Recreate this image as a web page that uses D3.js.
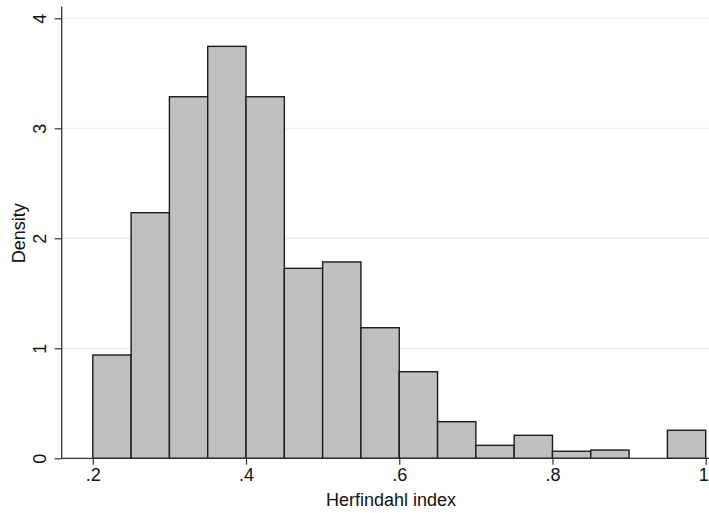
<!DOCTYPE html>
<html>
<head>
<meta charset="utf-8">
<script src="https://cdn.jsdelivr.net/npm/d3@7/dist/d3.min.js"></script>
<style>
  html, body { margin: 0; padding: 0; background: #fff; }
  svg { display: block; }
  text { font-family: "Liberation Sans", Arial, Helvetica, sans-serif; fill: #111; }
</style>
</head>
<body>
<svg id="chart" width="709" height="513"></svg>
<script>
// Histogram bins (lower edges, width .05) and their densities
const binStarts = [0.20, 0.25, 0.30, 0.35, 0.40, 0.45, 0.50, 0.55, 0.60, 0.65, 0.70, 0.75, 0.80, 0.85, 0.90, 0.95];
const densities = [0.939, 2.233, 3.287, 3.745, 3.287, 1.727, 1.785, 1.187, 0.787, 0.333, 0.118, 0.209, 0.064, 0.075, 0, 0.255];
const binWidth = 0.05;

const xTicks = [0.2, 0.4, 0.6, 0.8, 1];
const xTickLabels = [".2", ".4", ".6", ".8", "1"];
const yTicks = [0, 1, 2, 3, 4];
const yTickLabels = ["0", "1", "2", "3", "4"];

const xTitle = "Herfindahl index";
const yTitle = "Density";

const svg = d3.select("#chart");
const W = 709, H = 513;

const x = d3.scaleLinear().domain([0.2, 1]).range([92.8, 705.7]);
const y = d3.scaleLinear().domain([0, 4]).range([458.3, 18.3]);

const axisLeftX = 61.7;
const plotTop = 6.5;
const plotRight = W;

// Horizontal gridlines
svg.append("g")
  .selectAll("line")
  .data(yTicks.filter(d => d > 0))
  .join("line")
  .attr("x1", axisLeftX + 1)
  .attr("x2", plotRight)
  .attr("y1", d => y(d))
  .attr("y2", d => y(d))
  .attr("stroke", "#e8f0f2")
  .attr("stroke-width", 1.2);

// Bars
const bins = binStarts.map((s, i) => ({ x0: s, x1: s + binWidth, v: densities[i] }))
  .filter(d => d.v > 0);

svg.append("g")
  .selectAll("rect")
  .data(bins)
  .join("rect")
  .attr("x", d => x(d.x0))
  .attr("y", d => y(d.v))
  .attr("width", d => x(d.x1) - x(d.x0))
  .attr("height", d => y(0) - y(d.v))
  .attr("fill", "#c0c0c0")
  .attr("stroke", "#1c1c1c")
  .attr("stroke-width", 1.4);

// X axis
const xAxis = d3.axisBottom(x)
  .tickValues(xTicks)
  .tickFormat((d, i) => xTickLabels[i])
  .tickSize(6.5)
  .tickPadding(3)
  .tickSizeOuter(0);

const gx = svg.append("g")
  .attr("transform", `translate(0,${y(0)})`)
  .call(xAxis);
gx.select(".domain").remove();
gx.selectAll(".tick line").attr("stroke", "#333").attr("stroke-width", 1.2);
gx.selectAll(".tick text")
  .attr("font-size", 18)
  .attr("fill", "#111")
  .attr("font-family", "Liberation Sans, Arial, sans-serif")
  .attr("dx", d => (d === 1 ? -2.5 : 0));

svg.append("line")
  .attr("x1", axisLeftX)
  .attr("x2", plotRight)
  .attr("y1", y(0))
  .attr("y2", y(0))
  .attr("stroke", "#333")
  .attr("stroke-width", 1.3);

// Y axis
const yAxis = d3.axisLeft(y)
  .tickValues(yTicks)
  .tickFormat((d, i) => yTickLabels[i])
  .tickSize(7)
  .tickPadding(0)
  .tickSizeOuter(0);

const gy = svg.append("g")
  .attr("transform", `translate(${axisLeftX},0)`)
  .call(yAxis);
gy.select(".domain").remove();
gy.selectAll(".tick line").attr("stroke", "#333").attr("stroke-width", 1.2);
gy.selectAll(".tick text")
  .attr("font-size", 18)
  .attr("fill", "#111")
  .attr("font-family", "Liberation Sans, Arial, sans-serif")
  .attr("x", null)
  .attr("dy", null)
  .attr("text-anchor", "middle")
  .attr("transform", "translate(-15.5,0) rotate(-90)");

svg.append("line")
  .attr("x1", axisLeftX)
  .attr("x2", axisLeftX)
  .attr("y1", plotTop)
  .attr("y2", y(0))
  .attr("stroke", "#333")
  .attr("stroke-width", 1.3);

// Axis titles
svg.append("text")
  .attr("x", 391)
  .attr("y", 506)
  .attr("text-anchor", "middle")
  .attr("font-size", 18)
  .text(xTitle);

svg.append("text")
  .attr("transform", `translate(24.5,${(y(0) + y(4)) / 2 - 5}) rotate(-90)`)
  .attr("text-anchor", "middle")
  .attr("font-size", 18)
  .text(yTitle);
</script>
</body>
</html>
